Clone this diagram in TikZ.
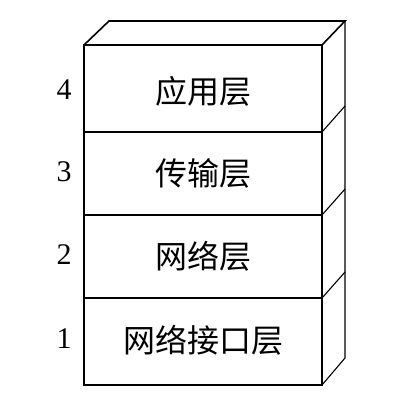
\documentclass[tikz,border=0pt]{standalone}
\usepackage{fontspec}
\setmainfont{Liberation Serif}
\newfontfamily\cjk{Noto Sans CJK SC}
\begin{document}
\begin{tikzpicture}[x=1pt,y=-1pt,
  edge/.style={draw=black,line width=1.6pt,line join=miter},
  thin edge/.style={draw=black,line width=1.1pt},
  layertext/.style={font=\cjk\fontsize{32}{32}\selectfont,inner sep=0pt,anchor=center},
  numtext/.style={font=\fontsize{30}{30}\selectfont,inner sep=0pt,anchor=center}]
\useasboundingbox (0,0) rectangle (400,409);
% coordinates
\coordinate (fl0) at (84,45);  \coordinate (fr0) at (322,45);
\coordinate (fl1) at (84,132); \coordinate (fr1) at (322,132);
\coordinate (fl2) at (84,215); \coordinate (fr2) at (322,215);
\coordinate (fl3) at (84,298); \coordinate (fr3) at (322,298);
\coordinate (fl4) at (84,385); \coordinate (fr4) at (322,385);
\coordinate (bl0) at (109,21); \coordinate (br0) at (345,21);
\coordinate (br1) at (345,106);
\coordinate (br2) at (345,189);
\coordinate (br3) at (345,272);
\coordinate (br4) at (345,358);
% front face
\draw[edge] (fl0) rectangle (fr4);
\draw[edge] (fl1) -- (fr1);
\draw[thin edge] (fl2) -- (fr2);
\draw[edge] (fl3) -- (fr3);
% top face
\draw[edge] (fl0) -- (bl0) -- (br0) -- (fr0);
% right face
\draw[thin edge] (br0) -- (br4) -- (fr4);
\draw[thin edge] (fr1) -- (br1);
\draw[thin edge] (fr2) -- (br2);
\draw[thin edge] (fr3) -- (br3);
% labels
\node[layertext] (t4) at (203,91) {应用层};
\node[layertext] (t3) at (203,173) {传输层};
\node[layertext] (t2) at (203,256) {网络层};
\node[layertext] (t1) at (203,340) {网络接口层};
\node[numtext] (n4) at (64,90) {4};
\node[numtext] (n3) at (64,172) {3};
\node[numtext] (n2) at (64,255) {2};
\node[numtext] (n1) at (64,339) {1};
\end{tikzpicture}
\end{document}
